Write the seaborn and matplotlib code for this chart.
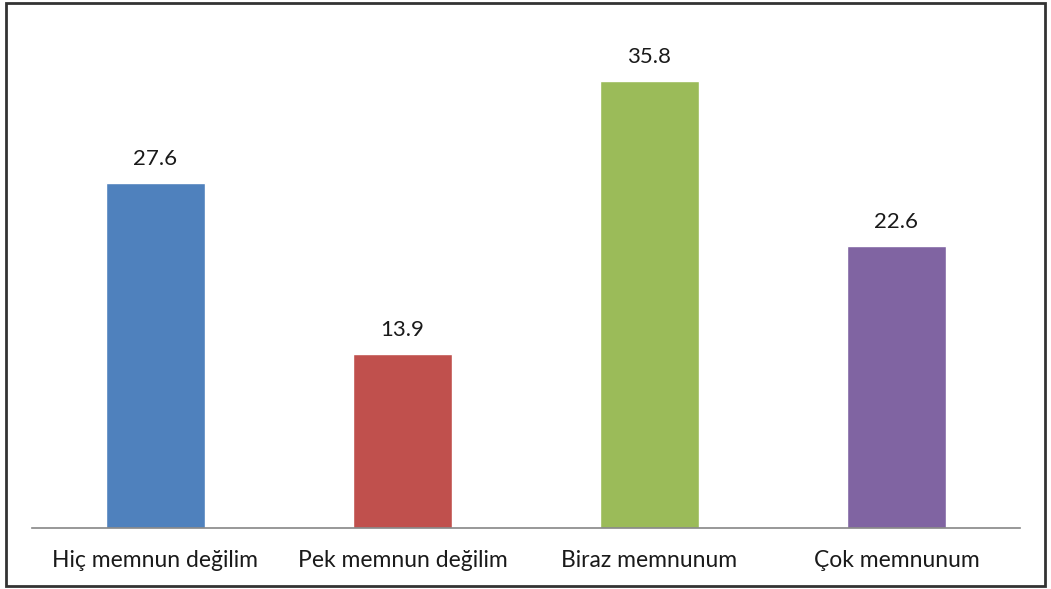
import pandas as pd
import seaborn as sns
import matplotlib.pyplot as plt
from matplotlib.patches import Rectangle

# data
categories = ['Hiç memnun değilim', 'Pek memnun değilim', 'Biraz memnunum', 'Çok memnunum']
values = [27.6, 13.9, 35.8, 22.6]
colors = ['#4F81BD', '#C0504D', '#9BBB59', '#8064A2']

df = pd.DataFrame({'cat': categories, 'val': values})

sns.set_theme(style='white')
plt.rcParams['font.family'] = ['Lato', 'DejaVu Sans']

fig = plt.figure(figsize=(10.51, 5.89), dpi=100)
W, H = 1051, 589
ax = fig.add_axes([32 / W, (H - 528) / H, (1020 - 32) / W, (528 - 28) / H])

sns.barplot(data=df, x='cat', y='val', hue='cat', palette=colors,
            width=0.4, legend=False, ax=ax, saturation=1)

ax.set_xlim(-0.5, 3.5)
ax.set_ylim(0, 40)
ax.set_yticks([])
ax.set_xlabel('')
ax.set_ylabel('')
for side in ['top', 'right', 'left']:
    ax.spines[side].set_visible(False)
ax.spines['bottom'].set_color('#868686')
ax.spines['bottom'].set_linewidth(1.2)
ax.tick_params(axis='x', length=0, pad=16, labelsize=16.5, colors='#1a1a1a')

# value labels above the bars
for i, v in enumerate(values):
    ax.text(i, v + 1.1, f'{v}', ha='center', va='bottom', fontsize=16, color='#1a1a1a')

# frame around the whole picture
fig.patches.append(Rectangle((6 / W, 3 / H), (1045 - 6) / W, (586 - 3) / H,
                             transform=fig.transFigure, fill=False,
                             edgecolor='#333333', linewidth=2))

fig.savefig('out.png', dpi=100, facecolor='white')
